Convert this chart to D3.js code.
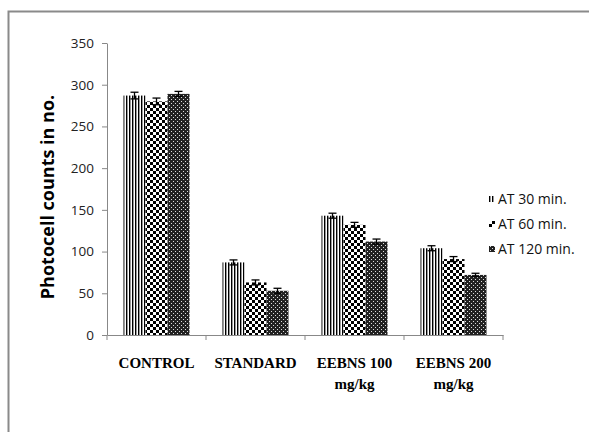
<!DOCTYPE html>
<html lang="en">
<head>
    <meta charset="UTF-8">
    <title>Photocell counts</title>
    <script src="https://cdn.jsdelivr.net/npm/d3@7"></script>
    <style>
        body { margin: 0; background: #fff; }
    </style>
</head>
<body>
<svg width="589" height="432"></svg>
<script>
    // data
    const groups = ["CONTROL", "STANDARD", "EEBNS 100 mg/kg", "EEBNS 200 mg/kg"];
    const series = ["AT 30 min.", "AT 60 min.", "AT 120 min."];
    const at30 = [287, 87, 143, 104];
    const at60 = [280, 63, 132, 91];
    const at120 = [289, 53, 112, 72];
    const err30 = [4, 3, 3, 3];
    const err60 = [4, 3, 3, 3];
    const err120 = [3, 3, 3, 2];
    const yTicks = [0, 50, 100, 150, 200, 250, 300, 350];

    const values = [at30, at60, at120];
    const errs = [err30, err60, err120];

    const svg = d3.select("svg");
    const defs = svg.append("defs");

    // vertical stripes
    const p1 = defs.append("pattern").attr("id", "p30").attr("patternUnits", "userSpaceOnUse")
        .attr("width", 3).attr("height", 3);
    p1.append("rect").attr("width", 3).attr("height", 3).attr("fill", "#fff");
    p1.append("rect").attr("width", 1.4).attr("height", 3).attr("fill", "#000");

    // checkerboard
    const p2 = defs.append("pattern").attr("id", "p60").attr("patternUnits", "userSpaceOnUse")
        .attr("width", 6).attr("height", 6);
    p2.append("rect").attr("width", 6).attr("height", 6).attr("fill", "#fff");
    p2.append("rect").attr("width", 3).attr("height", 3).attr("fill", "#000");
    p2.append("rect").attr("x", 3).attr("y", 3).attr("width", 3).attr("height", 3).attr("fill", "#000");

    // dark fine dots
    const p3 = defs.append("pattern").attr("id", "p120").attr("patternUnits", "userSpaceOnUse")
        .attr("width", 4).attr("height", 4);
    p3.append("rect").attr("width", 4).attr("height", 4).attr("fill", "#222");
    p3.append("rect").attr("x", 1).attr("y", 1).attr("width", 1).attr("height", 1).attr("fill", "#ddd");
    p3.append("rect").attr("x", 3).attr("y", 3).attr("width", 1).attr("height", 1).attr("fill", "#ddd");
    const fills = ["url(#p30)", "url(#p60)", "url(#p120)"];

    // outer frame
    svg.append("rect").attr("x", 8.5).attr("y", 11.5).attr("width", 600).attr("height", 440)
        .attr("fill", "none").attr("stroke", "#8a8a8a").attr("stroke-width", 2);

    const plotL = 107, plotR = 503, plotT = 43, plotB = 335;

    const x = d3.scaleBand().domain(groups).range([plotL, plotR]).paddingInner(0).paddingOuter(0);
    const xs = d3.scaleBand().domain(series).range([16.5, x.bandwidth() - 16.5]);
    const y = d3.scaleLinear().domain([0, 350]).range([plotB, plotT]);

    // y axis
    const yAxis = svg.append("g").attr("transform", `translate(${plotL},0)`)
        .call(d3.axisLeft(y).tickValues(yTicks).tickSize(5).tickSizeOuter(0).tickPadding(8));
    yAxis.selectAll("path, line").attr("stroke", "#888");
    yAxis.selectAll("text").attr("font-family", "Open Sans, sans-serif").attr("font-size", 13.5).attr("fill", "#222");

    // x axis
    const xAxis = svg.append("g").attr("transform", `translate(0,${plotB})`)
        .call(d3.axisBottom(x).tickSize(0).tickFormat(""));
    xAxis.select("path").attr("stroke", "#888");
    xAxis.selectAll(".tick").remove();
    svg.append("g").selectAll("line")
        .data(groups.map(g => x(g)).concat([plotR]))
        .join("line")
        .attr("x1", d => d).attr("x2", d => d)
        .attr("y1", plotB).attr("y2", plotB + 5)
        .attr("stroke", "#888");

    // x labels
    const lbl = svg.append("g").selectAll("text").data(groups).join("text")
        .attr("x", d => x(d) + x.bandwidth() / 2)
        .attr("y", 368)
        .attr("text-anchor", "middle")
        .attr("font-family", "Liberation Serif, serif")
        .attr("font-weight", "bold")
        .attr("font-size", 15)
        .attr("fill", "#000");
    lbl.each(function (d) {
        const m = d.match(/^(.*) (mg\/kg)$/);
        const parts = m ? [m[1], m[2]] : [d];
        d3.select(this).selectAll("tspan").data(parts).join("tspan")
            .attr("x", x(d) + x.bandwidth() / 2)
            .attr("dy", (p, i) => i ? 21 : 0)
            .text(p => p);
    });

    // bars
    series.forEach((s, si) => {
        const g = svg.append("g");
        g.selectAll("rect").data(groups).join("rect")
            .attr("x", d => x(d) + xs(s))
            .attr("y", (d, i) => y(values[si][i]))
            .attr("width", xs.bandwidth())
            .attr("height", (d, i) => plotB - y(values[si][i]))
            .attr("fill", fills[si]);
        // error bars
        const eb = g.selectAll("g").data(groups).join("g")
            .attr("stroke", "#000").attr("stroke-width", 1.3);
        const cx = d => x(d) + xs(s) + xs.bandwidth() / 2;
        eb.append("line")
            .attr("x1", cx).attr("x2", cx)
            .attr("y1", (d, i) => y(values[si][i] + errs[si][i]))
            .attr("y2", (d, i) => y(values[si][i] - errs[si][i]));
        [1, -1].forEach(sign => {
            eb.append("line")
                .attr("x1", d => cx(d) - 4)
                .attr("x2", d => cx(d) + 4)
                .attr("y1", (d, i) => y(values[si][i] + sign * errs[si][i]))
                .attr("y2", (d, i) => y(values[si][i] + sign * errs[si][i]));
        });
    });

    // y label
    svg.append("text")
        .attr("transform", `translate(54,${(plotT + plotB) / 2 + 8}) rotate(-90)`)
        .attr("text-anchor", "middle")
        .attr("font-family", "Open Sans, sans-serif")
        .attr("font-weight", "bold")
        .attr("font-size", 18)
        .attr("fill", "#000")
        .text("Photocell counts in no.");

    // legend
    const leg = svg.append("g").selectAll("g").data(series).join("g")
        .attr("transform", (d, i) => `translate(489,${199 + i * 25})`);
    leg.append("rect").attr("x", 0).attr("y", -3).attr("width", 6).attr("height", 6)
        .attr("fill", (d, i) => fills[i]);
    leg.append("text").attr("x", 9).attr("y", 0).attr("dy", "0.35em")
        .attr("font-family", "Open Sans, sans-serif").attr("font-size", 14).attr("fill", "#111")
        .text(d => d);
</script>
</body>
</html>
